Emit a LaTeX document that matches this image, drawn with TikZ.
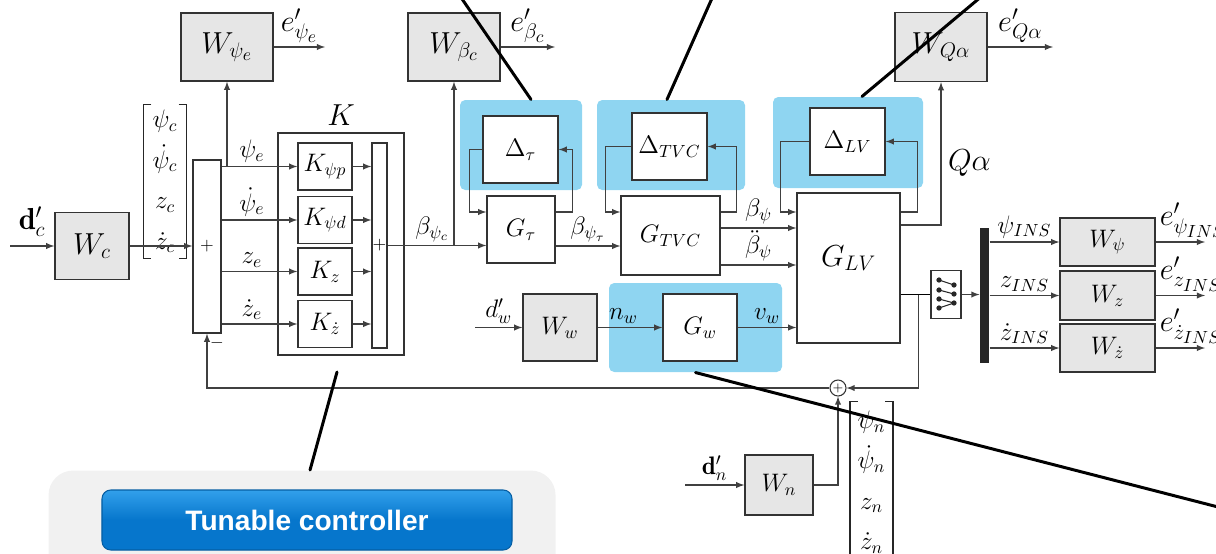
\documentclass[tikz,border=0pt]{standalone}
\usepackage{fontspec}
\usepackage{tikz}
\usetikzlibrary{shapes,arrows,positioning,calc,fit}
\usepackage{xcolor}
\definecolor{zoneblue}{RGB}{143,213,241}
\definecolor{boxgray}{RGB}{230,230,230}
\definecolor{panelgray}{RGB}{241,241,241}
\definecolor{btnblue}{RGB}{6,118,204}
\definecolor{btntop}{RGB}{50,160,235}
\newfontfamily\btnfont{Liberation Sans}

\begin{document}
\begin{tikzpicture}[x=0.2mm, y=-0.2mm, >=latex, line width=0.6pt]
\tikzstyle{wbox} = [rectangle, draw=black!80, fill=boxgray, line width=0.8pt, font=\Large, inner sep=0pt];
\tikzstyle{gbox} = [rectangle, draw=black!80, fill=white, line width=0.8pt, font=\Large, inner sep=0pt];
\tikzstyle{zone} = [rectangle, fill=zoneblue, rounded corners=3pt];
\tikzstyle{arr} = [->, draw=black!75];
\tikzstyle{sig} = [font=\Large, inner sep=2pt];
\tikzstyle{vecbox} = [rectangle, align=center, font=\Large, inner sep=0pt, minimum width=8.4mm];
\tikzstyle{bracket} = [draw=black!85, line width=1pt];
\tikzstyle{pointer} = [line width=1.7pt, black, line cap=round];

\useasboundingbox (0,0) rectangle (1216,553);

\node (panel) [rectangle, rounded corners=14pt, fill=panelgray, minimum width=101.4mm, minimum height=24mm, anchor=north west] at (48,470) {};
\node (tunable) [rectangle, rounded corners=5pt, top color=btntop, bottom color=btnblue, middle color=btnblue, draw=btnblue!80!black, minimum width=82mm, minimum height=12mm, font=\btnfont\bfseries\fontsize{16}{18}\selectfont, text=white] at (307,520) {Tunable controller};

\node (ztau) [zone, minimum width=24.4mm, minimum height=18mm] at (521,145) {};
\node (ztvc) [zone, minimum width=29.6mm, minimum height=18mm] at (671,145) {};
\node (zlv) [zone, minimum width=30mm, minimum height=18.2mm] at (848,142.5) {};
\node (zw) [zone, minimum width=34.6mm, minimum height=17.8mm] at (695.5,327.5) {};

\node (Wpsie) [wbox, font=\LARGE, minimum width=18.4mm, minimum height=13.6mm] at (227,47) {$W_{\psi_e}$};
\node (Wbeta) [wbox, font=\LARGE, minimum width=18.4mm, minimum height=13.6mm] at (454,47) {$W_{\beta_c}$};
\node (WQa) [wbox, font=\LARGE, minimum width=18.4mm, minimum height=13.8mm] at (941,47) {$W_{Q\alpha}$};
\node (Wc) [wbox, font=\LARGE, minimum width=14.8mm, minimum height=13.4mm] at (92,246) {$W_c$};

\node (vecc) [vecbox, minimum height=30.6mm] at (165,181.5) {$\psi_c$\\[5pt]$\dot\psi_c$\\[5pt]$z_c$\\[5pt]$\dot z_c$};
\draw[bracket] ([xshift=1.6mm]vecc.north west) -- (vecc.north west) -- (vecc.south west) -- ([xshift=1.6mm]vecc.south west);
\draw[bracket] ([xshift=-1.6mm]vecc.north east) -- (vecc.north east) -- (vecc.south east) -- ([xshift=-1.6mm]vecc.south east);

\node (sumbox) [gbox, font=\normalsize, minimum width=5.6mm, minimum height=34.6mm] at (207,246.5) {$+$};
\node (minus) [font=\normalsize] at ([xshift=2mm,yshift=-1.8mm]sumbox.south) {$-$};
\node (Kbox) [gbox, fill=none, minimum width=25.2mm, minimum height=44.4mm] at (341,244) {};
\node (Klab) [font=\LARGE, above=0pt of Kbox] {$K$};
\node (Kpsip) [gbox, minimum width=10.8mm, minimum height=9.4mm] at (325,166.5) {$K_{\psi p}$};
\node (Kpsid) [gbox, minimum width=10.8mm, minimum height=9.4mm] at (325,220) {$K_{\psi d}$};
\node (Kz) [gbox, minimum width=10.8mm, minimum height=9.4mm] at (325,271.5) {$K_z$};
\node (Kzd) [gbox, minimum width=10.8mm, minimum height=9.4mm] at (325,324) {$K_{\dot z}$};
\node (Kbar) [gbox, font=\normalsize, minimum width=3mm, minimum height=41mm] at (379.5,245.5) {$+$};

\node (Gtau) [gbox, minimum width=13.6mm, minimum height=13.4mm] at (521,229.5) {$G_\tau$};
\node (Dtau) [gbox, minimum width=15mm, minimum height=13.4mm] at (520.5,149.5) {$\Delta_\tau$};
\node (GTVC) [gbox, minimum width=19.8mm, minimum height=15.8mm] at (670.5,235.5) {$G_{TVC}$};
\node (DTVC) [gbox, minimum width=15mm, minimum height=13.4mm] at (669.5,146.5) {$\Delta_{TVC}$};
\node (GLV) [gbox, minimum width=20.6mm, minimum height=30mm] at (848.5,268) {};
\node (GLVlab) [font=\LARGE] at ([yshift=2mm]GLV.center) {$G_{LV}$};
\node (DLV) [gbox, minimum width=15mm, minimum height=13.4mm] at (847.5,141.5) {$\Delta_{LV}$};

\node (Ww) [wbox, minimum width=14.8mm, minimum height=13.4mm] at (560,327.5) {$W_w$};
\node (Gw) [gbox, minimum width=14.8mm, minimum height=13.4mm] at (700,327.5) {$G_w$};

\node (demux) [gbox, minimum width=6mm, minimum height=9.6mm] at (946,294.5) {};
\node (bar) [rectangle, fill=black!85, minimum width=1.8mm, minimum height=27mm, inner sep=0pt] at (984.5,295.5) {};
\node (Wpsi) [wbox, minimum width=19mm, minimum height=9.6mm] at (1107.5,242) {$W_\psi$};
\node (Wz) [wbox, minimum width=19mm, minimum height=9.8mm] at (1107.5,295.5) {$W_z$};
\node (Wzd) [wbox, minimum width=19mm, minimum height=9.6mm] at (1107.5,348) {$W_{\dot z}$};

\node (sumc) [circle, draw=black!80, fill=white, minimum size=3.2mm, inner sep=0pt, font=\scriptsize] at (838,388) {$+$};
\node (Wn) [wbox, minimum width=13.6mm, minimum height=12mm] at (779,485) {$W_n$};
\node (vecn) [vecbox, minimum height=32mm] at (871.5,482) {$\psi_n$\\[5pt]$\dot\psi_n$\\[5pt]$z_n$\\[5pt]$\dot z_n$};
\draw[bracket] ([xshift=1.6mm]vecn.north west) -- (vecn.north west) -- (vecn.south west) -- ([xshift=1.6mm]vecn.south west);
\draw[bracket] ([xshift=-1.6mm]vecn.north east) -- (vecn.north east) -- (vecn.south east) -- ([xshift=-1.6mm]vecn.south east);

\coordinate (dcin) at (10,246);
\coordinate (dwin) at (475,327.5);
\coordinate (dnin) at (685,485);
\coordinate (epsie) at (325,47);
\coordinate (ebeta) at (555,47);
\coordinate (eqa) at (1053,47);
\coordinate (epsi) at (1205,242);
\coordinate (ez) at (1205,295.5);
\coordinate (ezd) at (1205,348);

\draw[arr] (dcin) -- (Wc) node[sig, font=\LARGE, midway, above, yshift=1mm] {$\mathbf{d}'_c$};
\draw[arr] (Wc) -- (Wc -| sumbox.west);
\draw[arr] (sumbox.east |- Kpsip) -- (Kpsip) node[sig, pos=0.4, above] {$\psi_e$};
\draw[arr] (sumbox.east |- Kpsid) -- (Kpsid) node[sig, pos=0.4, above] {$\dot\psi_e$};
\draw[arr] (sumbox.east |- Kz) -- (Kz) node[sig, pos=0.4, above] {$z_e$};
\draw[arr] (sumbox.east |- Kzd) -- (Kzd) node[sig, pos=0.4, above] {$\dot z_e$};
\draw[arr] (Wpsie.south |- Kpsip) -- (Wpsie);
\draw[arr] (Wpsie) -- (epsie) node[sig, font=\LARGE, midway, above] {$e'_{\psi_e}$};
\draw[arr] (Kpsip) -- (Kpsip -| Kbar.west);
\draw[arr] (Kpsid) -- (Kpsid -| Kbar.west);
\draw[arr] (Kz) -- (Kz -| Kbar.west);
\draw[arr] (Kzd) -- (Kzd -| Kbar.west);

\draw[arr] (Kbar) -- (Kbar -| Gtau.west) node[sig, pos=0.45, above] {$\beta_{\psi_c}$};
\draw[arr] (Wbeta.south |- Kbar) -- (Wbeta);
\draw[arr] (Wbeta) -- (ebeta) node[sig, font=\LARGE, midway, above] {$e'_{\beta_c}$};

\draw[arr] (Dtau.west) -- ++(-2.6mm,0) |- ([yshift=3.5mm]Gtau.west);
\draw[arr] ([yshift=3.5mm]Gtau.east) -- ++(3.4mm,0) |- (Dtau.east);
\draw[arr] ([yshift=-3.3mm]Gtau.east) -- ([yshift=-3.3mm]Gtau.east -| GTVC.west) node[sig, midway, above] {$\beta_{\psi_\tau}$};
\draw[arr] (DTVC.west) -- ++(-5.2mm,0) |- ([yshift=4.7mm]GTVC.west);
\draw[arr] ([yshift=4.7mm]GTVC.east) -- ++(3.2mm,0) |- (DTVC.east);
\draw[arr] ([yshift=1.5mm]GTVC.east) -- ([yshift=1.5mm]GTVC.east -| GLV.west) node[sig, midway, above] {$\beta_\psi$};
\draw[arr] ([yshift=-5.9mm]GTVC.east) -- ([yshift=-5.9mm]GTVC.east -| GLV.west) node[sig, midway, above] {$\ddot\beta_\psi$};
\draw[arr] (DLV.west) -- ++(-5.8mm,0) |- ([yshift=11.2mm]GLV.west);
\draw[arr] ([yshift=11.2mm]GLV.east) -- ++(3.4mm,0) |- (DLV.east);
\draw[arr] ([yshift=8.6mm]GLV.east) -| (WQa.south);
\node (qalab) [sig, font=\LARGE, anchor=west] at (944,163) {$Q\alpha$};
\draw[arr] (WQa) -- (eqa) node[sig, font=\LARGE, midway, above] {$e'_{Q\alpha}$};

\draw[arr] (dwin) -- (Ww) node[sig, midway, above] {$d'_w$};
\draw[arr] (Ww) -- (Gw) node[sig, pos=0.4, above] {$n_w$};
\draw[arr] (Gw) -- (Gw -| GLV.west) node[sig, midway, above] {$v_w$};

\draw (GLV.east |- demux) -- (demux);
\draw[arr] (demux) -- (demux -| bar.west);
\draw[arr] ([xshift=3.6mm]GLV.east |- demux) |- (sumc);
\draw[arr] (sumc) -| (sumbox.south);
\draw[arr] (Wn) -| (sumc);
\draw[arr] (dnin) -- (Wn) node[sig, midway, above] {$\mathbf{d}'_n$};

\draw[arr] (bar.east |- Wpsi) -- (Wpsi) node[sig, midway, above] {$\psi_{INS}$};
\draw[arr] (bar.east |- Wz) -- (Wz) node[sig, midway, above] {$z_{INS}$};
\draw[arr] (bar.east |- Wzd) -- (Wzd) node[sig, midway, above] {$\dot z_{INS}$};
\draw[arr] (Wpsi) -- (epsi) node[sig, font=\LARGE, pos=0, anchor=south west] {$e'_{\psi_{INS}}$};
\draw[arr] (Wz) -- (ez) node[sig, font=\LARGE, pos=0, anchor=south west] {$e'_{z_{INS}}$};
\draw[arr] (Wzd) -- (ezd) node[sig, font=\LARGE, pos=0, anchor=south west] {$e'_{\dot z_{INS}}$};

\foreach \y in {280,290,299,308} \fill[black!85] (939,\y) circle (1.5pt);
\foreach \y in {285,294,303} \fill[black!85] (954,\y) circle (1.5pt);
\draw[black!85] (939,280) -- (954,285) (939,290) -- (954,294) (939,299) -- (954,303) (939,308) -- (954,303);

\coordinate (ptau) at (460,-4);
\coordinate (ptvc) at (713,-4);
\coordinate (plv) at (982,-4);
\coordinate (pk) at (337,372);
\coordinate (pw) at (1222,508);
\draw[pointer] (ptau) -- ([xshift=2mm]ztau.north);
\draw[pointer] (ptvc) -- ([xshift=-0.8mm]ztvc.north);
\draw[pointer] (plv) -- ([xshift=2.8mm]zlv.north);
\draw[pointer] ([xshift=1.6mm]panel.north) -- (pk);
\draw[pointer] (zw.south) -- (pw);
\end{tikzpicture}
\end{document}
